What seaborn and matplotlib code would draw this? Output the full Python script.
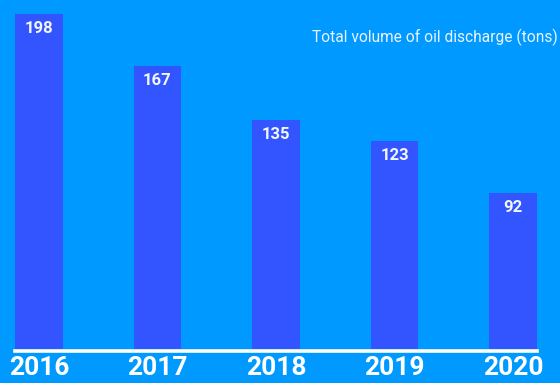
import matplotlib
matplotlib.use("Agg")
import matplotlib.pyplot as plt
import seaborn as sns
import pandas as pd

# Oil discharge per year
years = ["2016", "2017", "2018", "2019", "2020"]
volumes = [198, 167, 135, 123, 92]
title = "Total volume of oil discharge (tons)"

BG = "#0099FF"
BAR = "#3355FF"

sns.set_theme(style="white")
plt.rcParams["font.family"] = ["Roboto", "DejaVu Sans"]

df = pd.DataFrame({"year": years, "volume": volumes})

fig = plt.figure(figsize=(5.6, 3.83), dpi=100, facecolor=BG)
ax = fig.add_axes([15 / 560, 1 - 348.5 / 383, 522 / 560, 348.5 / 383])
ax.set_facecolor(BG)

sns.barplot(data=df, x="year", y="volume", color=BAR, saturation=1,
            width=0.405, linewidth=0, edgecolor=BAR, ax=ax)

ax.set_xlim(-0.2025, 4.2025)
ax.set_ylim(0, 206.3)

for i, v in enumerate(volumes):
    ax.annotate(str(v), (i, v), xytext=(0, -5), textcoords="offset points",
                ha="center", va="top", color="#F4F6FF", fontsize=12,
                fontweight="bold")

for side in ("top", "left", "right"):
    ax.spines[side].set_visible(False)
ax.spines["bottom"].set_color("white")
ax.spines["bottom"].set_linewidth(2.6)
ax.spines["bottom"].set_position(("outward", 2))

ax.set_yticks([])
ax.set_xlabel("")
ax.set_ylabel("")
ax.tick_params(axis="x", length=0, pad=3.5, labelsize=19, labelcolor="white")
for lbl in ax.get_xticklabels():
    lbl.set_fontweight("bold")

fig.text(558 / 560, 1 - 37 / 383, title, ha="right", va="center",
         color="#E8F4FF", fontsize=11.2)

fig.savefig("out.png", dpi=100, facecolor=BG)
